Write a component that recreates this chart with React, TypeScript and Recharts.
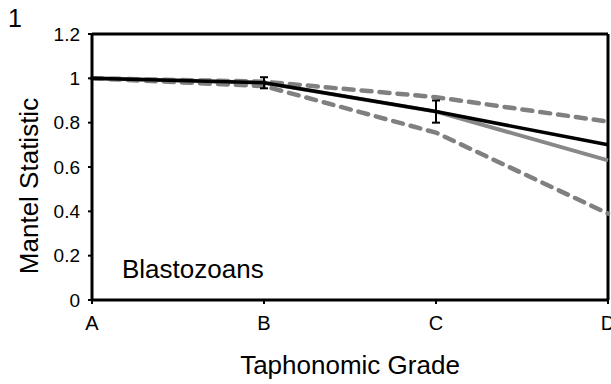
import { LineChart, Line, XAxis, YAxis, ReferenceLine, ErrorBar, Label } from 'recharts'

const grades = ['A', 'B', 'C', 'D']
const meanLine = [1.0, 0.98, 0.85, 0.7]
const meanErr = [0, 0.025, 0.05, 0]
const greyLine = [1.0, 0.98, 0.85, 0.63]
const upperLine = [1.0, 0.985, 0.915, 0.805]
const lowerLine = [1.0, 0.965, 0.755, 0.39]
const yTicks = [0, 0.2, 0.4, 0.6, 0.8, 1, 1.2]

const data = grades.map((g, i) => ({
  grade: g,
  mean: meanLine[i],
  err: meanErr[i],
  grey: greyLine[i],
  upper: upperLine[i],
  lower: lowerLine[i],
}))

const FONT = '"Liberation Sans", Arial, sans-serif'
const DASH = '#808080'

export default function App() {
  return (
    <div style={{ position: 'absolute', left: 0, top: 0, background: '#fff' }}>
      <LineChart
        width={611}
        height={384}
        data={data}
        margin={{ top: 34, right: 3, bottom: 0, left: 28 }}
        style={{ fontFamily: FONT }}
      >
        <XAxis
          dataKey="grade"
          height={84}
          axisLine={{ stroke: '#000', strokeWidth: 3 }}
          tickLine={{ stroke: '#000', strokeWidth: 2 }}
          tickSize={4}
          tickMargin={12}
          tick={{ fill: '#000', fontSize: 20 }}
          interval={0}
        >
          <Label value="Taphonomic Grade" position="insideBottom" offset={10} fill="#000" fontSize={26} />
        </XAxis>
        <YAxis
          domain={[0, 1.2]}
          ticks={yTicks}
          width={64}
          axisLine={{ stroke: '#000', strokeWidth: 3 }}
          tickLine={{ stroke: '#000', strokeWidth: 2 }}
          tickSize={4}
          tickMargin={8}
          tick={{ fill: '#000', fontSize: 19 }}
        />
        <ReferenceLine y={1.2} stroke="#000" strokeWidth={3} />
        <ReferenceLine x="D" stroke="#000" strokeWidth={3} />
        <Line dataKey="upper" stroke={DASH} strokeWidth={4.5} strokeDasharray="10 8" strokeLinecap="round" dot={false} isAnimationActive={false} />
        <Line dataKey="lower" stroke={DASH} strokeWidth={4.5} strokeDasharray="10 8" strokeLinecap="round" dot={false} isAnimationActive={false} />
        <Line dataKey="grey" stroke="#888" strokeWidth={4} dot={false} isAnimationActive={false} />
        <Line dataKey="mean" stroke="#000" strokeWidth={3.5} dot={false} isAnimationActive={false}>
          <ErrorBar dataKey="err" width={4} stroke="#000" strokeWidth={2} direction="y" />
        </Line>
        <text x={122} y={278} fontSize={26} fill="#000" fontFamily={FONT}>Blastozoans</text>
        <text x={8} y={27} fontSize={25} fill="#000" fontFamily={FONT}>1</text>
        <text
          x={38}
          y={186}
          fontSize={26}
          fill="#000"
          fontFamily={FONT}
          textAnchor="middle"
          transform="rotate(-90, 38, 186)"
        >
          Mantel Statistic
        </text>
      </LineChart>
    </div>
  )
}
